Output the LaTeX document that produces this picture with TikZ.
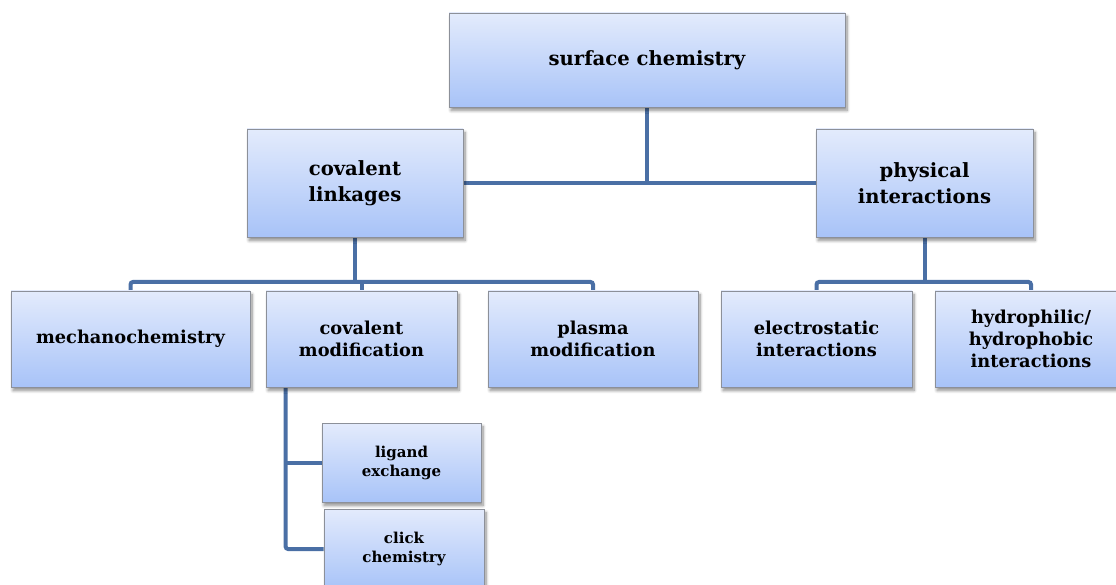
\documentclass[tikz,border=0pt]{standalone}
\usepackage{fontspec}
\setmainfont{DejaVu Serif}
\usetikzlibrary{shadows.blur,backgrounds}
\definecolor{linkblue}{HTML}{4A6FA5}
\definecolor{boxtop}{HTML}{E3EBFC}
\definecolor{boxbot}{HTML}{A8C3F8}
\definecolor{boxedge}{HTML}{8C9099}
\begin{document}
\begin{tikzpicture}[x=1pt,y=-1pt,
  box/.style={draw=boxedge, line width=0.8pt, top color=boxtop, bottom color=boxbot,
    blur shadow={shadow xshift=2pt, shadow yshift=-3.5pt, shadow blur steps=8, shadow blur radius=3pt, shadow opacity=45},
    align=center, inner sep=0pt},
  big/.style={font=\fontsize{19.6}{26}\selectfont\bfseries},
  mid/.style={font=\fontsize{17.8}{22}\selectfont\bfseries},
  small/.style={font=\fontsize{15}{19}\selectfont\bfseries},
  link/.style={draw=linkblue, line width=4pt, rounded corners=2.5pt}
]
\useasboundingbox (0,0) rectangle (1116,585);

% top level
\node[box, big, minimum width=396pt, minimum height=94pt] (root) at (647,60) {surface chemistry};

% second level
\node[box, big, minimum width=216pt, minimum height=108pt] (cov) at (355,183) {covalent\\linkages};
\node[box, big, minimum width=217pt, minimum height=108pt] (phys) at (924.5,183) {physical\\interactions};

% third level
\node[box, mid, minimum width=239pt, minimum height=96pt] (mech) at (130.5,339) {mechanochemistry};
\node[box, mid, minimum width=191pt, minimum height=96pt] (cmod) at (361.5,339) {covalent\\modification};
\node[box, mid, minimum width=210pt, minimum height=96pt] (plas) at (593,339) {plasma\\modification};
\node[box, mid, minimum width=191pt, minimum height=96pt] (elec) at (816.5,339) {electrostatic\\interactions};
\node[box, mid, minimum width=192pt, minimum height=96pt] (hyd) at (1031,339) {hydrophilic/\\hydrophobic\\interactions};

% fourth level
\node[box, small, minimum width=159pt, minimum height=79pt] (lig) at (401.5,462.5) {ligand\\exchange};
\node[box, small, minimum width=160pt, minimum height=80pt] (click) at (404,549) {click\\chemistry};

\coordinate (trunk) at ([xshift=20pt]cmod.south west);

\begin{scope}[on background layer]
  \draw[link] (root.south) -- (root.south |- cov.east);
  \draw[link] (cov.east) -- (phys.west);
  \draw[link] (cov.south) -- (cov.south |- 0,282);
  \draw[link] (mech.north) -- (mech.north |- 0,282) -- (plas.north |- 0,282) -- (plas.north);
  \draw[link] (cmod.north) -- (cmod.north |- 0,282);
  \draw[link] (phys.south) -- (phys.south |- 0,282);
  \draw[link] (elec.north) -- (elec.north |- 0,282) -- (hyd.north |- 0,282) -- (hyd.north);
  \draw[link] (trunk) |- (click.west);
  \draw[link] (lig.west) -- (lig.west -| trunk);
\end{scope}
\end{tikzpicture}
\end{document}
